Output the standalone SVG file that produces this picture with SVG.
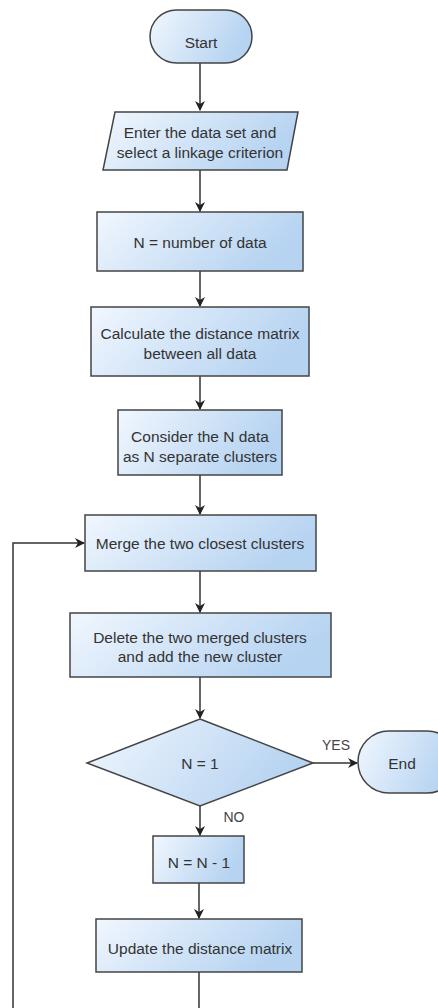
<svg xmlns="http://www.w3.org/2000/svg" width="438" height="1008" viewBox="0 0 438 1008">
<defs>
<linearGradient id="g" x1="0" y1="0" x2="1" y2="0.3">
<stop offset="0" stop-color="#f1f7fe"/>
<stop offset="1" stop-color="#b6d3f1"/>
</linearGradient>
<marker id="ah" markerWidth="10" markerHeight="10" refX="9" refY="5" orient="auto" markerUnits="userSpaceOnUse">
<path d="M0,0 L10,5 L0,10 L3,5 z" fill="#222"/>
</marker>
<style>
.s{fill:url(#g);stroke:#444;stroke-width:1.5}
.t{font-family:"Liberation Sans",Arial,sans-serif;font-size:15.5px;fill:#333;text-anchor:middle}
.l{font-family:"Liberation Sans",Arial,sans-serif;font-size:14px;fill:#444;text-anchor:middle}
.c{fill:none;stroke:#333;stroke-width:1.5}
</style>
</defs>
<rect width="438" height="1008" fill="#fff"/>
<g id="connectors">
<path class="c" d="M200,63 V110" marker-end="url(#ah)"/>
<path class="c" d="M200,170 V211" marker-end="url(#ah)"/>
<path class="c" d="M200,271 V306" marker-end="url(#ah)"/>
<path class="c" d="M200,376 V409" marker-end="url(#ah)"/>
<path class="c" d="M200,475 V514" marker-end="url(#ah)"/>
<path class="c" d="M200,571 V612" marker-end="url(#ah)"/>
<path class="c" d="M200,677 V718" marker-end="url(#ah)"/>
<path class="c" d="M313,763 H357" marker-end="url(#ah)"/>
<path class="c" d="M200,806 V835" marker-end="url(#ah)"/>
<path class="c" d="M199,883 V918" marker-end="url(#ah)"/>
<path class="c" d="M199,972 V1008"/>
<path class="c" d="M13,1008 V543 H84" marker-end="url(#ah)"/>
<text class="l" x="336" y="750">YES</text>
<text class="l" x="234" y="822">NO</text>
</g>
<g id="start">
<rect class="s" x="150" y="10" width="102" height="53" rx="26.5"/>
<text class="t" x="201" y="47.5">Start</text>
</g>
<g id="input">
<polygon class="s" points="115,112 298,112 287,170 103,170"/>
<text class="t" x="200" y="137.5">Enter the data set and</text>
<text class="t" x="200" y="157.5">select a linkage criterion</text>
</g>
<g id="n-count">
<rect class="s" x="97" y="212" width="206" height="59"/>
<text class="t" x="200" y="247.5">N = number of data</text>
</g>
<g id="calc-matrix">
<rect class="s" x="91" y="307" width="218" height="69"/>
<text class="t" x="200" y="338.5">Calculate the distance matrix</text>
<text class="t" x="200" y="358.5">between all data</text>
</g>
<g id="consider">
<rect class="s" x="118" y="410" width="164" height="65"/>
<text class="t" x="200" y="441.5">Consider the N data</text>
<text class="t" x="200" y="461.5">as N separate clusters</text>
</g>
<g id="merge">
<rect class="s" x="85" y="515" width="231" height="56"/>
<text class="t" x="200" y="548.5">Merge the two closest clusters</text>
</g>
<g id="delete">
<rect class="s" x="70" y="613" width="261" height="64"/>
<text class="t" x="200" y="642.5">Delete the two merged clusters</text>
<text class="t" x="200" y="662">and add the new cluster</text>
</g>
<g id="decision">
<polygon class="s" points="200,719 313,763 200,806 87,763"/>
<text class="t" x="200" y="768.5">N = 1</text>
</g>
<g id="end">
<rect class="s" x="358" y="731" width="100" height="62" rx="31"/>
<text class="t" x="402" y="768.5">End</text>
</g>
<g id="decrement">
<rect class="s" x="153" y="836" width="91" height="47"/>
<text class="t" x="199" y="867.5">N = N - 1</text>
</g>
<g id="update">
<rect class="s" x="96" y="919" width="206" height="53"/>
<text class="t" x="200" y="953.5">Update the distance matrix</text>
</g>
</svg>
